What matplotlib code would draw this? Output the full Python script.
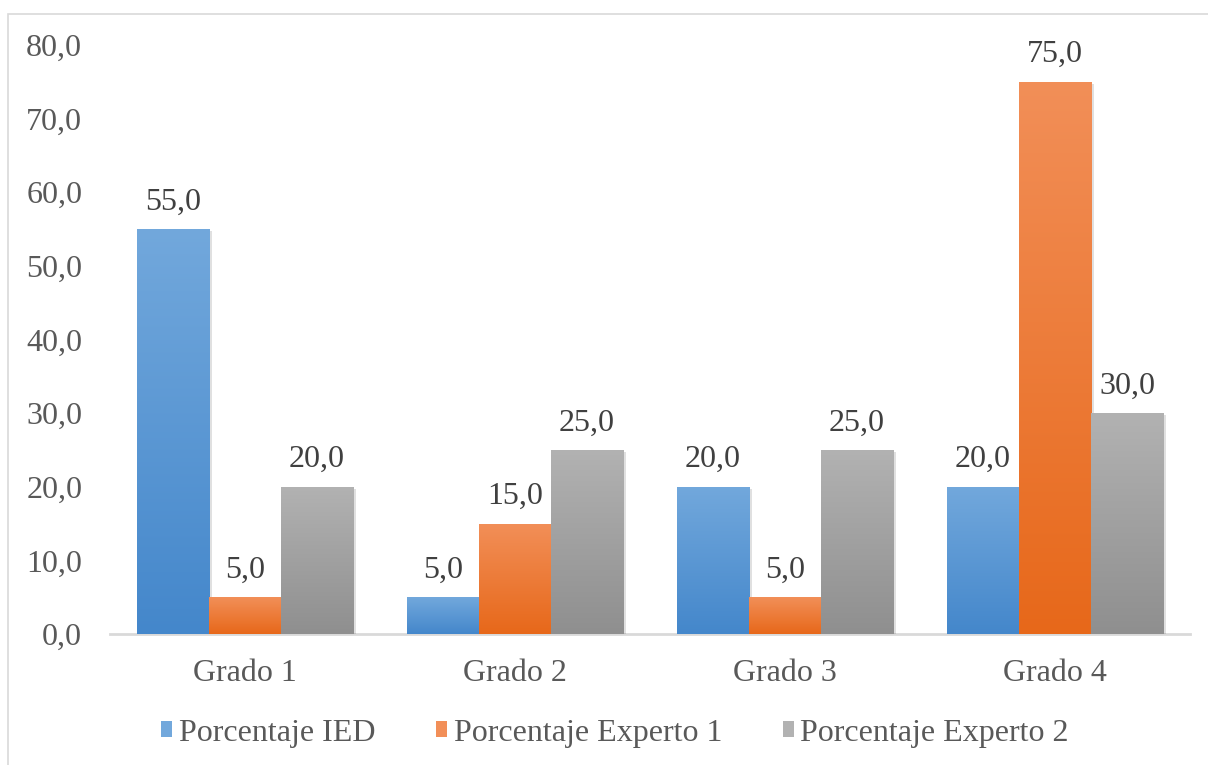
import numpy as np
import matplotlib
matplotlib.use("Agg")
import matplotlib.pyplot as plt
from matplotlib.patches import Rectangle
from matplotlib.colors import LinearSegmentedColormap
import matplotlib.patheffects as pe

categories = ["Grado 1", "Grado 2", "Grado 3", "Grado 4"]
series_names = ["Porcentaje IED", "Porcentaje Experto 1", "Porcentaje Experto 2"]
ied = [55.0, 5.0, 20.0, 20.0]
experto1 = [5.0, 15.0, 5.0, 75.0]
experto2 = [20.0, 25.0, 25.0, 30.0]
yticks = [0, 10, 20, 30, 40, 50, 60, 70, 80]

series = [ied, experto1, experto2]
grad_colors = [("#4487cb", "#72a8dc"), ("#e7681a", "#f28f58"), ("#8f8f8f", "#b2b2b2")]

plt.rcParams['font.family'] = ['Liberation Serif', 'DejaVu Serif']

fig = plt.figure(figsize=(12.08, 7.65), dpi=100)
ax = fig.add_axes([110/1208, 131/765, 1080/1208, 589/765])

# figure border
fig.patches.append(Rectangle((8/1208, -0.1), 1.2, 0.1 + (1 - 14/765), transform=fig.transFigure,
                             fill=False, edgecolor="#d9d9d9", linewidth=1.2))

width = 0.2667
x = np.arange(len(categories))
handles = []
for i, (vals, (c0, c1)) in enumerate(zip(series, grad_colors)):
    cmap = LinearSegmentedColormap.from_list("g%d" % i, [c0, c1])
    bars = ax.bar(x + (i - 1) * width, vals, width, color=c0, linewidth=0, zorder=2,
                  path_effects=[pe.SimplePatchShadow(offset=(2.5, -1.5), shadow_rgbFace="#000000", alpha=0.12), pe.Normal()])
    handles.append(Rectangle((0, 0), 1, 1, facecolor=c1))
    for b, v in zip(bars, vals):
        x0, y0 = b.get_x(), b.get_y()
        w, h = b.get_width(), b.get_height()
        grad = np.linspace(0, 1, 256).reshape(-1, 1)
        im = ax.imshow(grad, cmap=cmap, origin="lower", aspect="auto",
                       extent=(x0, x0 + w, y0, y0 + h), zorder=3)
        im.set_clip_path(b)
        ax.annotate(f"{v:.1f}".replace(".", ","), (x0 + w / 2, y0 + h),
                    xytext=(0, 9), textcoords="offset points", ha="center", va="bottom",
                    fontsize=23, color="#404040", zorder=5)

ax.set_xlim(-0.5, 3.5)
ax.set_ylim(0, 80)
ax.set_yticks(yticks)
ax.set_yticklabels([f"{t:.1f}".replace(".", ",") for t in yticks])
ax.set_xticks(x)
ax.set_xticklabels(categories)
ax.tick_params(axis="both", length=0, labelsize=23, labelcolor="#595959")
ax.tick_params(axis="y", pad=20)
ax.tick_params(axis="x", pad=18)
for s in ["top", "right", "left"]:
    ax.spines[s].set_visible(False)
ax.spines["bottom"].set_color("#d9d9d9")
ax.spines["bottom"].set_linewidth(2)
ax.spines["bottom"].set_zorder(1)

leg = fig.legend(handles, series_names, loc="center", bbox_to_anchor=(615/1208, 1 - 733/765),
                 ncol=3, frameon=False, fontsize=23, handlelength=0.35, handleheight=0.35,
                 handletextpad=0.2, columnspacing=1.9, labelcolor="#595959")

fig.savefig("out.png", dpi=100)
